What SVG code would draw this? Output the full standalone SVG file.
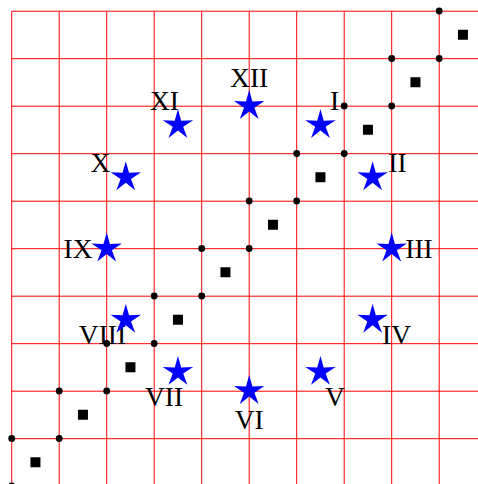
<svg xmlns="http://www.w3.org/2000/svg" xmlns:xlink="http://www.w3.org/1999/xlink" width="478" height="484" viewBox="0 0 478 484">
<style>
.grid line{stroke:#ff0000;stroke-width:1;}
.dot{fill:#000;}
.sq{fill:#000;}
.star{fill:#0000ff;}
.lbl{font-family:"Liberation Serif","Times New Roman",serif;font-size:27.5px;fill:#000;text-anchor:middle;}
</style>
<defs>
<path id="star" d="M0,-16 L3.233,-4.45 L15.217,-4.944 L5.231,1.7 L9.405,12.944 L0,5.5 L-9.405,12.944 L-5.231,1.7 L-15.217,-4.944 L-3.233,-4.45 Z"/>
</defs>
<rect width="478" height="484" fill="#fff"/>
<g class="grid" id="grid">
<line x1="11.7" y1="11.2" x2="11.7" y2="490"/>
<line x1="59.2" y1="11.2" x2="59.2" y2="490"/>
<line x1="106.7" y1="11.2" x2="106.7" y2="490"/>
<line x1="154.2" y1="11.2" x2="154.2" y2="490"/>
<line x1="201.7" y1="11.2" x2="201.7" y2="490"/>
<line x1="249.2" y1="11.2" x2="249.2" y2="490"/>
<line x1="296.7" y1="11.2" x2="296.7" y2="490"/>
<line x1="344.2" y1="11.2" x2="344.2" y2="490"/>
<line x1="391.7" y1="11.2" x2="391.7" y2="490"/>
<line x1="439.2" y1="11.2" x2="439.2" y2="490"/>
<line x1="11.7" y1="11.2" x2="480" y2="11.2"/>
<line x1="11.7" y1="58.7" x2="480" y2="58.7"/>
<line x1="11.7" y1="106.2" x2="480" y2="106.2"/>
<line x1="11.7" y1="153.7" x2="480" y2="153.7"/>
<line x1="11.7" y1="201.2" x2="480" y2="201.2"/>
<line x1="11.7" y1="248.7" x2="480" y2="248.7"/>
<line x1="11.7" y1="296.2" x2="480" y2="296.2"/>
<line x1="11.7" y1="343.7" x2="480" y2="343.7"/>
<line x1="11.7" y1="391.2" x2="480" y2="391.2"/>
<line x1="11.7" y1="438.7" x2="480" y2="438.7"/>
</g>
<g id="connectors"></g>
<g id="squares">
<rect class="sq" x="30.45" y="457.25" width="10" height="10"/>
<rect class="sq" x="77.95" y="409.75" width="10" height="10"/>
<rect class="sq" x="125.45" y="362.25" width="10" height="10"/>
<rect class="sq" x="172.95" y="314.75" width="10" height="10"/>
<rect class="sq" x="220.45" y="267.25" width="10" height="10"/>
<rect class="sq" x="267.95" y="219.75" width="10" height="10"/>
<rect class="sq" x="315.45" y="172.25" width="10" height="10"/>
<rect class="sq" x="362.95" y="124.75" width="10" height="10"/>
<rect class="sq" x="410.45" y="77.25" width="10" height="10"/>
<rect class="sq" x="457.95" y="29.75" width="10" height="10"/>
</g>
<g id="XII"><text class="lbl" x="249.2" y="87">XII</text><use href="#star" class="star" x="249.2" y="106"/></g>
<g id="I"><text class="lbl" x="334.5" y="109.5">I</text><use href="#star" class="star" x="320.45" y="125.09"/></g>
<g id="II"><text class="lbl" x="397.5" y="172">II</text><use href="#star" class="star" x="372.61" y="177.25"/></g>
<g id="III"><text class="lbl" x="419" y="258">III</text><use href="#star" class="star" x="391.7" y="248.5"/></g>
<g id="IV"><text class="lbl" x="396.5" y="343.5">IV</text><use href="#star" class="star" x="372.61" y="319.75"/></g>
<g id="V"><text class="lbl" x="335" y="406">V</text><use href="#star" class="star" x="320.45" y="371.91"/></g>
<g id="VI"><text class="lbl" x="249.2" y="428.5">VI</text><use href="#star" class="star" x="249.2" y="391"/></g>
<g id="VII"><text class="lbl" x="164" y="406">VII</text><use href="#star" class="star" x="177.95" y="371.91"/></g>
<g id="VIII"><text class="lbl" x="102.5" y="343.5">VIII</text><use href="#star" class="star" x="125.79" y="319.75"/></g>
<g id="IX"><text class="lbl" x="78" y="258">IX</text><use href="#star" class="star" x="106.7" y="248.5"/></g>
<g id="X"><text class="lbl" x="100.5" y="172">X</text><use href="#star" class="star" x="125.79" y="177.25"/></g>
<g id="XI"><text class="lbl" x="164.5" y="109.5">XI</text><use href="#star" class="star" x="177.95" y="125.09"/></g>
<g id="dots">
<circle class="dot" cx="11.7" cy="438.5" r="3.4"/><circle class="dot" cx="11.7" cy="486" r="3.4"/>
<circle class="dot" cx="59.2" cy="391" r="3.4"/><circle class="dot" cx="59.2" cy="438.5" r="3.4"/>
<circle class="dot" cx="106.7" cy="343.5" r="3.4"/><circle class="dot" cx="106.7" cy="391" r="3.4"/>
<circle class="dot" cx="154.2" cy="296" r="3.4"/><circle class="dot" cx="154.2" cy="343.5" r="3.4"/>
<circle class="dot" cx="201.7" cy="248.5" r="3.4"/><circle class="dot" cx="201.7" cy="296" r="3.4"/>
<circle class="dot" cx="249.2" cy="201" r="3.4"/><circle class="dot" cx="249.2" cy="248.5" r="3.4"/>
<circle class="dot" cx="296.7" cy="153.5" r="3.4"/><circle class="dot" cx="296.7" cy="201" r="3.4"/>
<circle class="dot" cx="344.2" cy="106" r="3.4"/><circle class="dot" cx="344.2" cy="153.5" r="3.4"/>
<circle class="dot" cx="391.7" cy="58.5" r="3.4"/><circle class="dot" cx="391.7" cy="106" r="3.4"/>
<circle class="dot" cx="439.2" cy="11" r="3.4"/><circle class="dot" cx="439.2" cy="58.5" r="3.4"/>
</g>
</svg>
